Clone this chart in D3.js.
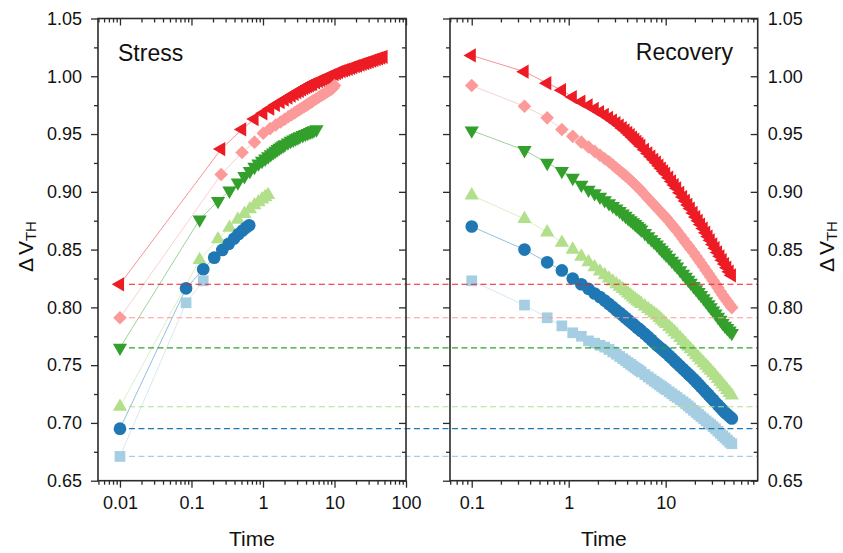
<!DOCTYPE html>
<html>
<head>
<meta charset="utf-8">
<script src="https://cdn.jsdelivr.net/npm/d3@7"></script>
<style>
  body { margin: 0; background: #fff; }
  svg { font-family: Arial, "Liberation Sans", sans-serif; }
</style>
</head>
<body>
<svg id="chart" width="843" height="553"></svg>
<script>
// ---- data ----
const seriesNames = ["red", "pink", "green", "lightGreen", "blue", "lightBlue"];
const seriesColors = ["#ED1C24", "#FB9A99", "#33A02C", "#B2DF8A", "#1F78B4", "#A6CEE3"];
const seriesSymbols = ["triLeft", "diamond", "triDown", "triUp", "circle", "square"];

const redStressT = [0.01, 0.26, 0.51, 0.76, 1.01, 1.26, 1.51, 1.76, 2.01, 2.26, 2.51, 2.76, 3.01, 3.26, 3.51,
    3.76, 4.01, 4.26, 4.51, 4.76, 5.01, 5.51, 6.01, 6.51, 7.01, 7.51, 8.01, 8.51, 9.26, 10.01,
    10.76, 11.51, 12.51, 13.51, 14.51, 15.76, 17.01, 18.26, 19.76, 21.26, 23.01, 24.76, 26.76, 28.76, 31.01,
    33.51, 36.01, 38.76, 41.76, 45.01, 48.51];
const redStressV = [0.820, 0.937, 0.954, 0.963, 0.968, 0.972, 0.9752, 0.9776, 0.9797, 0.9816, 0.9833, 0.9848, 0.9862, 0.9874, 0.9886,
    0.9897, 0.9907, 0.9915, 0.9922, 0.9929, 0.9935, 0.9947, 0.9957, 0.9967, 0.9976, 0.9984, 0.9992, 0.9999, 1.001, 1.0019,
    1.0027, 1.0035, 1.0044, 1.0051, 1.0057, 1.0065, 1.0072, 1.0079, 1.0087, 1.0093, 1.010, 1.0107, 1.0114, 1.0121, 1.0127,
    1.0135, 1.0141, 1.0148, 1.0155, 1.0162, 1.0168];

const pinkStressT = [0.01, 0.26, 0.51, 0.76, 1.01, 1.26, 1.51, 1.76, 2.01, 2.26, 2.51, 2.76, 3.01, 3.26, 3.51,
    3.76, 4.01, 4.26, 4.51, 4.76, 5.01, 5.51, 6.01, 6.51, 7.01, 7.51, 8.01, 8.51, 9.01, 9.51, 10.01];
const pinkStressV = [0.791, 0.915, 0.934, 0.943, 0.9507, 0.9547, 0.9579, 0.9605, 0.9628, 0.9649, 0.9667, 0.9683, 0.9699, 0.9712, 0.9725,
    0.9737, 0.9748, 0.9759, 0.9769, 0.9778, 0.9787, 0.9803, 0.9819, 0.9833, 0.9845, 0.9857, 0.9868, 0.9879, 0.9889, 0.9898, 0.992];

const greenStressT = [0.01, 0.13, 0.235, 0.34, 0.445, 0.55, 0.655, 0.76, 0.865, 0.97, 1.075, 1.18, 1.285, 1.39, 1.495,
    1.6, 1.705, 1.81, 1.915, 2.02, 2.23, 2.44, 2.65, 2.86, 3.07, 3.28, 3.595, 3.91, 4.225, 4.54, 4.855, 5.17, 5.59];
const greenStressV = [0.765, 0.876, 0.892, 0.901, 0.908, 0.9135, 0.918, 0.9215, 0.9245, 0.9267, 0.9287, 0.9306, 0.9324, 0.934, 0.9355,
    0.9369, 0.9381, 0.9392, 0.9401, 0.941, 0.9426, 0.944, 0.9451, 0.9462, 0.9471, 0.948, 0.949, 0.95, 0.9509, 0.9517, 0.9525, 0.9532, 0.954];

const lightGreenStressT = [0.01, 0.13, 0.235, 0.34, 0.445, 0.55, 0.655, 0.76, 0.865, 0.97, 1.075, 1.18];
const lightGreenStressV = [0.714, 0.841, 0.859, 0.869, 0.876, 0.881, 0.885, 0.8885, 0.891, 0.8935, 0.8955, 0.8973];

const blueStressT = [0.01, 0.084, 0.146, 0.208, 0.27, 0.332, 0.394, 0.456, 0.518, 0.58, 0.642];
const blueStressV = [0.695, 0.8165, 0.833, 0.843, 0.8497, 0.855, 0.8595, 0.8635, 0.8665, 0.869, 0.871];

const lightBlueStressT = [0.01, 0.084, 0.146];
const lightBlueStressV = [0.671, 0.804, 0.823];

const recoveryT = [0.1, 0.35, 0.6, 0.85, 1.1, 1.35, 1.6, 1.85, 2.1, 2.35,
    2.6, 2.85, 3.1, 3.35, 3.6, 3.85, 4.1, 4.35, 4.6, 4.85,
    5.1, 5.35, 5.6, 6.1, 6.6, 7.1, 7.6, 8.1, 8.6, 9.1,
    9.6, 10.1, 10.85, 11.6, 12.35, 13.1, 14.1, 15.1, 16.1, 17.1,
    18.1, 19.35, 20.6, 21.85, 23.1, 24.6, 26.1, 27.6, 29.1, 30.85,
    32.6, 34.6, 36.6, 38.6, 40.85, 43.1, 45.6, 48.1];
const redRecoveryV = [1.018, 1.004, 0.994, 0.988, 0.982, 0.978, 0.9748, 0.9717, 0.9689, 0.9665,
    0.9641, 0.9617, 0.9595, 0.9573, 0.9551, 0.9531, 0.951, 0.949, 0.947, 0.9451,
    0.9433, 0.9415, 0.9397, 0.9364, 0.9332, 0.9304, 0.9277, 0.9252, 0.9226, 0.9201,
    0.9178, 0.9156, 0.9122, 0.909, 0.9059, 0.903, 0.8991, 0.8955, 0.8921, 0.8887,
    0.8855, 0.8817, 0.8782, 0.8749, 0.8717, 0.8682, 0.8646, 0.8613, 0.858, 0.8545,
    0.8512, 0.8475, 0.8442, 0.8408, 0.8375, 0.8343, 0.8309, 0.8277];
const pinkRecoveryV = [0.992, 0.974, 0.964, 0.954, 0.948, 0.943, 0.9388, 0.935, 0.9317, 0.9287,
    0.926, 0.9232, 0.9206, 0.9183, 0.9161, 0.914, 0.912, 0.910, 0.908, 0.9061,
    0.9044, 0.9026, 0.9008, 0.8974, 0.8942, 0.8914, 0.8887, 0.8863, 0.8839, 0.8817,
    0.8796, 0.8776, 0.8745, 0.8716, 0.8688, 0.8661, 0.8626, 0.8593, 0.8562, 0.8534,
    0.8506, 0.8474, 0.8443, 0.8413, 0.8383, 0.8351, 0.832, 0.8291, 0.8263, 0.8233,
    0.8203, 0.8169, 0.8138, 0.8107, 0.8078, 0.8052, 0.8024, 0.7998];
const greenRecoveryV = [0.953, 0.936, 0.925, 0.918, 0.912, 0.906, 0.9018, 0.8987, 0.8957, 0.8927,
    0.8901, 0.8877, 0.8855, 0.8833, 0.8811, 0.8791, 0.8771, 0.8753, 0.8736, 0.872,
    0.8704, 0.8688, 0.8672, 0.8642, 0.8614, 0.8589, 0.8565, 0.8543, 0.8519, 0.8497,
    0.8476, 0.8456, 0.8429, 0.8402, 0.8378, 0.8353, 0.8321, 0.8291, 0.8263, 0.8237,
    0.8212, 0.8183, 0.8156, 0.8131, 0.8106, 0.8079, 0.8051, 0.8025, 0.800, 0.7972,
    0.7946, 0.7917, 0.7891, 0.7864, 0.784, 0.782, 0.7798, 0.7778];
const lightGreenRecoveryV = [0.897, 0.8765, 0.865, 0.856, 0.850, 0.844, 0.8392, 0.8348, 0.8311, 0.828,
    0.825, 0.8224, 0.8201, 0.8179, 0.8159, 0.814, 0.8121, 0.8103, 0.8086, 0.807,
    0.8055, 0.8043, 0.8031, 0.8009, 0.7987, 0.7967, 0.7947, 0.793, 0.791, 0.789,
    0.7873, 0.7857, 0.7832, 0.7809, 0.7786, 0.7765, 0.7736, 0.7709, 0.7684, 0.766,
    0.7638, 0.7612, 0.7587, 0.7565, 0.7542, 0.7518, 0.7495, 0.7473, 0.7452, 0.743,
    0.7407, 0.7381, 0.7357, 0.7333, 0.7309, 0.7286, 0.7261, 0.7238];
const blueRecoveryV = [0.870, 0.850, 0.839, 0.832, 0.825, 0.820, 0.816, 0.812, 0.809, 0.8059,
    0.803, 0.8002, 0.7976, 0.7953, 0.7931, 0.791, 0.7891, 0.7873, 0.7856, 0.784,
    0.7824, 0.781, 0.7796, 0.777, 0.7744, 0.7719, 0.7695, 0.7674, 0.7656, 0.7639,
    0.7623, 0.7607, 0.7582, 0.7559, 0.7536, 0.7516, 0.7491, 0.7467, 0.7444, 0.7424,
    0.7404, 0.738, 0.7357, 0.7335, 0.7312, 0.7288, 0.7265, 0.7243, 0.7222, 0.720,
    0.7178, 0.7155, 0.7133, 0.7112, 0.709, 0.7074, 0.7056, 0.7039];
const lightBlueRecoveryV = [0.823, 0.802, 0.791, 0.784, 0.778, 0.775, 0.771, 0.769, 0.7672, 0.7656,
    0.7636, 0.7614, 0.7595, 0.7575, 0.7556, 0.7539, 0.7522, 0.7507, 0.7492, 0.7478,
    0.7465, 0.7453, 0.7441, 0.7419, 0.7398, 0.7379, 0.7361, 0.7345, 0.733, 0.7315,
    0.7301, 0.7288, 0.7269, 0.7252, 0.7235, 0.722, 0.7201, 0.7183, 0.7165, 0.7147,
    0.7129, 0.7109, 0.709, 0.7073, 0.7055, 0.7036, 0.7018, 0.7001, 0.6985, 0.6968,
    0.695, 0.6929, 0.691, 0.689, 0.6871, 0.6853, 0.6833, 0.682];

const yTicks = [0.65, 0.70, 0.75, 0.80, 0.85, 0.90, 0.95, 1.00, 1.05];
const yMinor = [0.675, 0.725, 0.775, 0.825, 0.875, 0.925, 0.975, 1.025];
const stressTicks = [0.01, 0.1, 1, 10, 100];
const recoveryTicks = [0.1, 1, 10];

const stressT = [redStressT, pinkStressT, greenStressT, lightGreenStressT, blueStressT, lightBlueStressT];
const stressV = [redStressV, pinkStressV, greenStressV, lightGreenStressV, blueStressV, lightBlueStressV];
const recoveryV = [redRecoveryV, pinkRecoveryV, greenRecoveryV, lightGreenRecoveryV, blueRecoveryV, lightBlueRecoveryV];

// ---- layout ----
const svg = d3.select("#chart");
const TOP = 18.5, BOTTOM = 480.7;
const LEFT_X = [98, 406], RIGHT_X = [450, 757.7];
const AXIS_COLOR = "#2b2b2b";

const y = d3.scaleLinear().domain([0.65, 1.05]).range([BOTTOM, TOP]);
const xStress = d3.scaleLog().domain([0.00493, 100]).range(LEFT_X);
const xRecovery = d3.scaleLog().domain([0.0597, 88.9]).range(RIGHT_X);

function minorLogTicks(scale) {
    const [a, b] = scale.domain();
    const out = [];
    for (let e = Math.floor(Math.log10(a)); e <= Math.ceil(Math.log10(b)); e++) {
        for (let m = 2; m <= 9; m++) {
            const v = m * Math.pow(10, e);
            if (v >= a && v <= b) out.push(v);
        }
    }
    return out;
}

const fmtX = d => d >= 1 ? d3.format("d")(d) : String(d);

function cleanAxis(g) {
    g.select(".domain").remove();
    g.selectAll(".tick line").attr("stroke", AXIS_COLOR).attr("stroke-width", 1.3);
    g.selectAll(".tick text").attr("fill", "#111").style("font-size", "18px");
}

function drawFrame(x, majors, labelSide) {
    const g = svg.append("g");
    const [x0, x1] = x.range();
    // bottom: outward ticks
    g.append("g").attr("transform", `translate(0,${BOTTOM})`)
        .call(d3.axisBottom(x).tickValues(majors).tickFormat(fmtX).tickSize(7).tickPadding(9))
        .call(cleanAxis);
    g.append("g").attr("transform", `translate(0,${BOTTOM})`)
        .call(d3.axisBottom(x).tickValues(minorLogTicks(x)).tickFormat("").tickSize(4))
        .call(cleanAxis);
    // top: inward ticks
    g.append("g").attr("transform", `translate(0,${TOP})`)
        .call(d3.axisTop(x).tickValues(majors).tickFormat("").tickSize(-7))
        .call(cleanAxis);
    g.append("g").attr("transform", `translate(0,${TOP})`)
        .call(d3.axisTop(x).tickValues(minorLogTicks(x)).tickFormat("").tickSize(-4))
        .call(cleanAxis);
    // left edge: outward ticks
    g.append("g").attr("transform", `translate(${x0},0)`)
        .call(d3.axisLeft(y).tickValues(yTicks).tickSize(7).tickPadding(9)
            .tickFormat(labelSide === "left" ? d3.format(".2f") : ""))
        .call(cleanAxis);
    g.append("g").attr("transform", `translate(${x0},0)`)
        .call(d3.axisLeft(y).tickValues(yMinor).tickFormat("").tickSize(4))
        .call(cleanAxis);
    // right edge: inward ticks
    g.append("g").attr("transform", `translate(${x1},0)`)
        .call(d3.axisRight(y).tickValues(yTicks).tickSize(-7).tickPadding(10)
            .tickFormat(labelSide === "right" ? d3.format(".2f") : ""))
        .call(cleanAxis);
    g.append("g").attr("transform", `translate(${x1},0)`)
        .call(d3.axisRight(y).tickValues(yMinor).tickFormat("").tickSize(-4))
        .call(cleanAxis);

    g.append("rect")
        .attr("x", x0).attr("y", TOP)
        .attr("width", x1 - x0).attr("height", BOTTOM - TOP)
        .attr("fill", "none").attr("stroke", AXIS_COLOR).attr("stroke-width", 1.6);

    g.append("text")
        .attr("x", (x0 + x1) / 2).attr("y", 546)
        .attr("text-anchor", "middle")
        .style("font-size", "21px").attr("fill", "#111")
        .text("Time");
}

function symbolPath(kind) {
    if (kind === "circle") return d3.symbol(d3.symbolCircle, 126)();
    if (kind === "square") return d3.symbol(d3.symbolSquare, 115)();
    if (kind === "diamond") return d3.symbol(d3.symbolSquare, 92)();
    return d3.symbol(d3.symbolTriangle, 88)();
}
function symbolRotate(kind) {
    if (kind === "triLeft") return -90;
    if (kind === "triDown") return 180;
    if (kind === "diamond") return 45;
    return 0;
}

const plotLayer = svg.append("g");

function drawSeries(x, times, values, i) {
    const pts = times.map((t, k) => ({ t: t, v: values[k] }));
    const color = seriesColors[i];
    const kind = seriesSymbols[i];
    const g = plotLayer.append("g").attr("class", "series-" + seriesNames[i]);
    g.append("path")
        .datum(pts)
        .attr("d", d3.line().x(d => x(d.t)).y(d => y(d.v)))
        .attr("fill", "none")
        .attr("stroke", color)
        .attr("stroke-opacity", 0.6)
        .attr("stroke-width", 0.8);
    g.selectAll("path.mark")
        .data(pts)
        .join("path")
        .attr("class", "mark")
        .attr("d", symbolPath(kind))
        .attr("transform", d => `translate(${x(d.t)},${y(d.v)}) rotate(${symbolRotate(kind)})`)
        .attr("fill", color);
}

seriesNames.forEach((name, i) => {
    drawSeries(xStress, stressT[i], stressV[i], i);
    drawSeries(xRecovery, recoveryT, recoveryV[i], i);
});

// dashed reference lines at each series' starting value, running across both panels
const refLayer = svg.append("g");
seriesNames.forEach((name, i) => {
    const v0 = stressV[i][0];
    refLayer.append("line")
        .attr("x1", xStress(stressT[i][0]) + 9)
        .attr("x2", RIGHT_X[1])
        .attr("y1", y(v0)).attr("y2", y(v0))
        .attr("stroke", seriesColors[i])
        .attr("stroke-width", 1.2)
        .attr("stroke-dasharray", "6,3.5");
});

drawFrame(xStress, stressTicks, "left");
drawFrame(xRecovery, recoveryTicks, "right");

// panel titles
svg.append("text").attr("x", 118).attr("y", 61)
    .style("font-size", "23px").attr("fill", "#111").text("Stress");
svg.append("text").attr("x", 733).attr("y", 60).attr("text-anchor", "end")
    .style("font-size", "23px").attr("fill", "#111").text("Recovery");

// y-axis titles
function yTitle(xPos) {
    const t = svg.append("text")
        .attr("transform", `translate(${xPos},${(TOP + BOTTOM) / 2 - 3}) rotate(-90)`)
        .attr("text-anchor", "middle")
        .style("font-size", "21px").attr("fill", "#111");
    t.append("tspan").text("\u0394");
    t.append("tspan").attr("dx", 3).text("V");
    t.append("tspan").attr("dy", 3).style("font-size", "15px").text("TH");
}
yTitle(33);
yTitle(834);
</script>
</body>
</html>
